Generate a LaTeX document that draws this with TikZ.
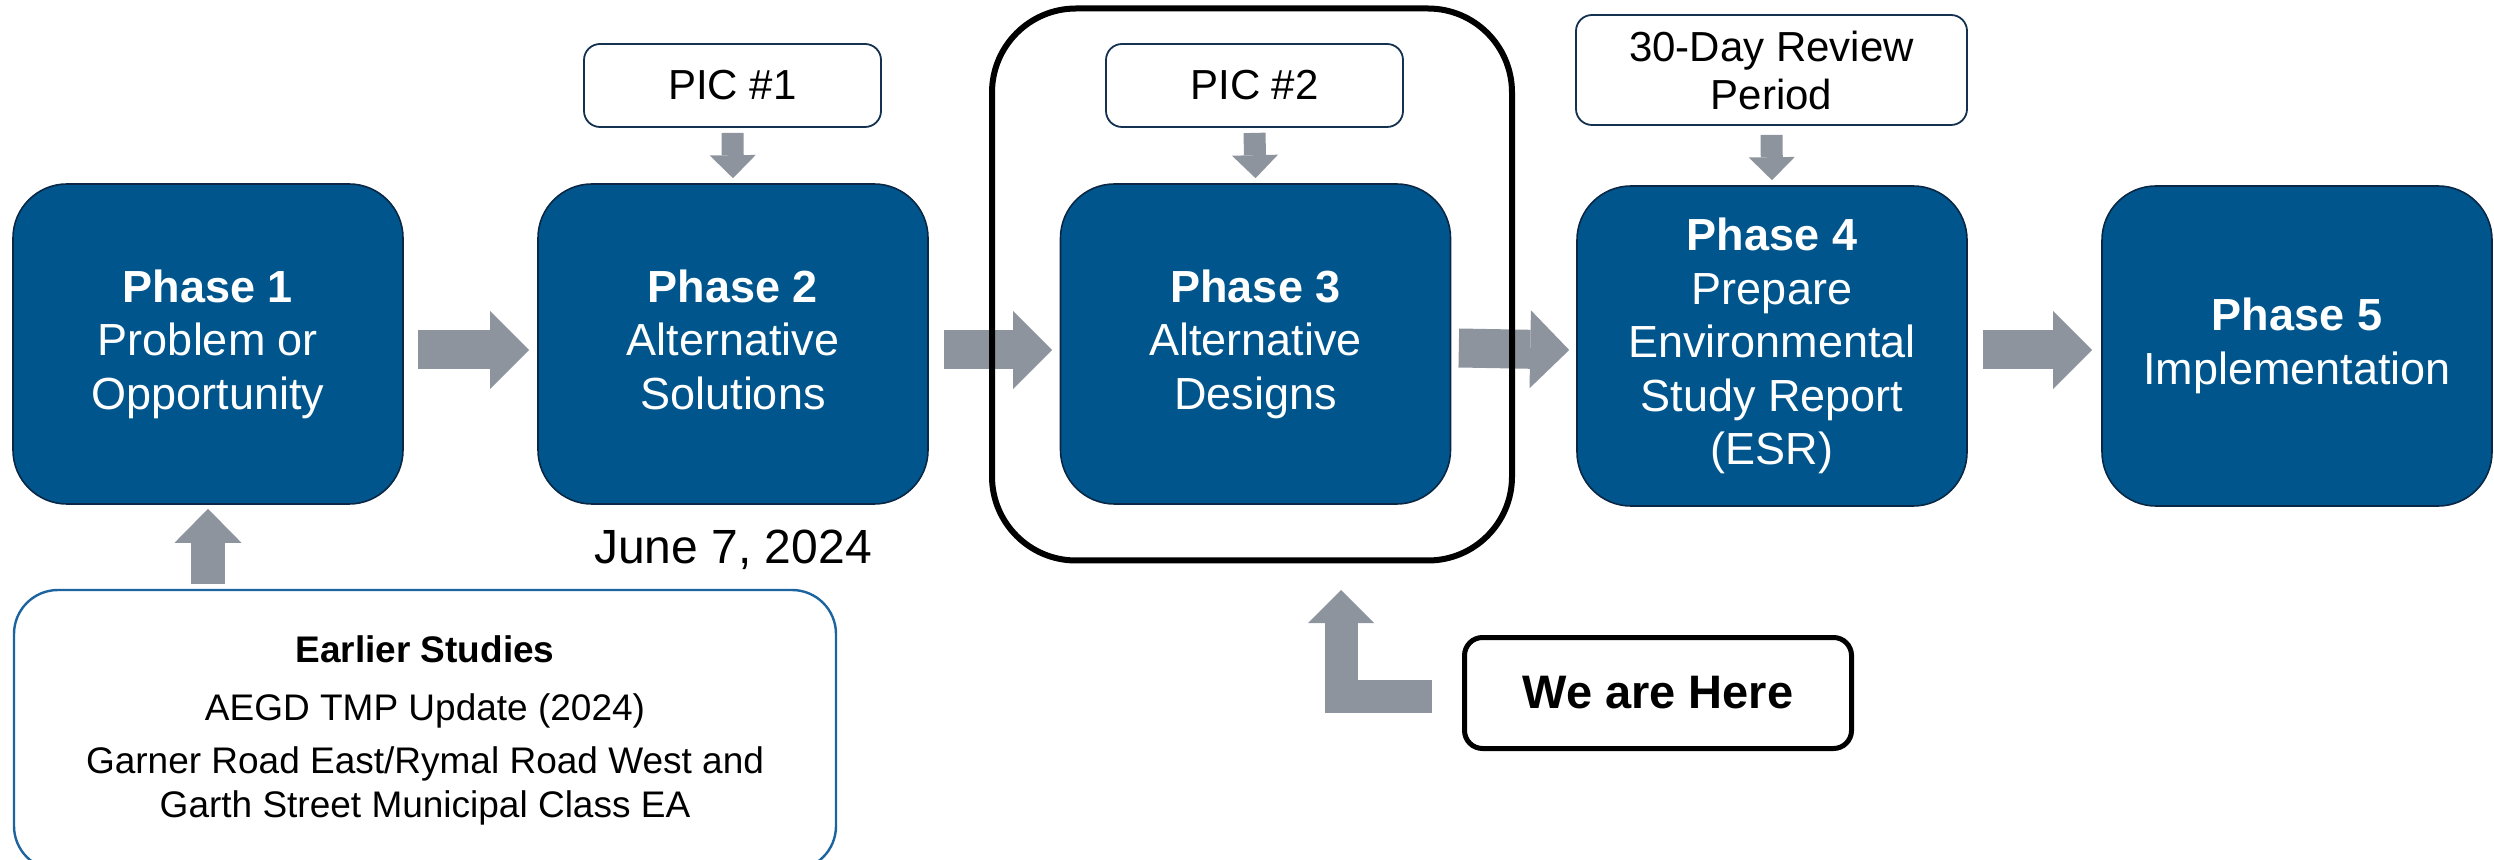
\documentclass[tikz,border=0pt]{standalone}
\usepackage{fontspec}
\setmainfont{Liberation Sans}
\usetikzlibrary{arrows.meta,calc}
\definecolor{phasefill}{RGB}{0,86,140}
\definecolor{phaseline}{RGB}{10,40,70}
\definecolor{picline}{RGB}{20,50,80}
\definecolor{arrowgray}{RGB}{142,148,158}
\definecolor{studyline}{RGB}{28,100,160}
\begin{document}
\begin{tikzpicture}[x=0.5pt,y=-0.5pt,
  phase/.style={draw=phaseline,line width=0.8pt,fill=phasefill,rounded corners=27pt,minimum width=195pt,minimum height=160pt,inner sep=0pt,text=white,align=center,font=\fontsize{22.5}{26.75}\selectfont,
    execute at begin node={\rule{0pt}{21pt}},execute at end node={\vphantom{y}}},
  picbox/.style={draw=picline,line width=0.9pt,fill=white,rounded corners=8pt,inner sep=0pt,align=center,font=\fontsize{21}{24}\selectfont},
  studybox/.style={draw=studyline,line width=1.2pt,fill=white,rounded corners=22pt,inner sep=0pt,align=center,font=\fontsize{18.5}{22}\selectfont},
  herebox/.style={draw=black,line width=2.5pt,fill=white,rounded corners=9pt,inner sep=0pt,font=\fontsize{23.5}{28}\selectfont\bfseries},
  focusframe/.style={draw=black,line width=3pt,rounded corners=42pt,inner sep=0pt},
  flowarrow/.style={draw=arrowgray,line width=19.5pt,-{Triangle[length=19.5pt,width=39pt,line width=0pt]}},
  droparrow/.style={draw=arrowgray,line width=11pt,-{Triangle[length=11.5pt,width=23pt,line width=0pt]}},
  liftarrow/.style={draw=arrowgray,line width=17pt,-{Triangle[length=17pt,width=33.5pt,line width=0pt]}},
  bendarrow/.style={draw=arrowgray,line width=16.5pt,line join=miter,-{Triangle[length=16.5pt,width=33pt,line width=0pt]}},
  datelabel/.style={font=\fontsize{24}{28}\selectfont,inner sep=0pt}
]
\useasboundingbox (0,0) rectangle (2494,860);

% phase boxes
\node[phase] (p1) at (208,344) {\textbf{Phase 1}\\Problem or\\Opportunity};
\node[phase] (p2) at (733,344) {\textbf{Phase 2}\\Alternative\\Solutions};
\node[phase] (p3) at (1255.5,344) {\textbf{Phase 3}\\Alternative\\Designs};
\node[phase] (p4) at (1772,346) {\textbf{Phase 4}\\Prepare\\Environmental\\Study Report\\(ESR)};
\node[phase] (p5) at (2297,346) {\textbf{Phase 5}\\Implementation};

% top boxes
\node[picbox,minimum width=148.5pt,minimum height=41.5pt] (pic1) at (732.5,85.5) {PIC \#1};
\node[picbox,minimum width=148.5pt,minimum height=41.5pt] (pic2) at (1254.5,85.5) {PIC \#2};
\node[picbox,minimum width=195.5pt,minimum height=55pt] (review) at (1771.5,70) {30-Day Review\\Period};

% earlier studies
\node[studybox,minimum width=411pt,minimum height=140pt] (es) at (425,730)
  {\textbf{Earlier Studies}\\[7pt]AEGD TMP Update (2024)\\[4.5pt]Garner Road East/Rymal Road West and\\Garth Street Municipal Class EA};

% date
\node[datelabel,anchor=base] (date) at (733,564) {June 7, 2024};

% we are here
\node[herebox,minimum width=193.5pt,minimum height=55.5pt] (here) at (1658,693) {We are Here};

% flow arrows
\draw[flowarrow] ([xshift=7pt,yshift=-3pt]p1.east) -- ([xshift=-4pt,yshift=-3pt]p2.west);
\draw[flowarrow] ([xshift=7.5pt,yshift=-3pt]p2.east) -- ([xshift=-3.75pt,yshift=-3pt]p3.west);
\draw[flowarrow] ([xshift=3.75pt,yshift=-2pt]p3.east) -- ([xshift=-3.5pt,yshift=-2pt]p4.west);
\draw[flowarrow] ([xshift=7.5pt,yshift=-2pt]p4.east) -- ([xshift=-4.5pt,yshift=-2pt]p5.west);

% drop arrows
\draw[droparrow] ([yshift=-2.5pt]pic1.south) -- ([yshift=2.5pt]p2.north);
\draw[droparrow] ([yshift=-2.5pt]pic2.south) -- ([yshift=2.5pt]p3.north);
\draw[droparrow] ([yshift=-4.5pt]review.south) -- ([yshift=2.5pt]p4.north);

% lift arrow from earlier studies
\draw[liftarrow] ($(p1.south |- es.north)+(0,-5)$) -- ([yshift=-2pt]p1.south);

% focus frame
\node[focusframe,minimum width=260pt,minimum height=276pt] (frame) at (1252,284.5) {};

% bent arrow from "We are Here"
\draw[bendarrow] ($(here.west)+(-30,3.5)$) -| ($(frame.south)+(89,26.5)$);
\end{tikzpicture}
\end{document}
